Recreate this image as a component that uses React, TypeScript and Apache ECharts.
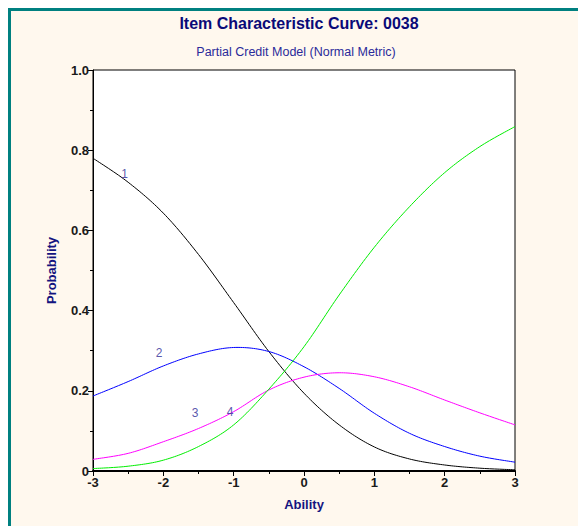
import React, { useEffect, useRef } from "react";
import * as echarts from "echarts";

const abilities = [-3, -2.5, -2, -1.5, -1, -0.5, 0, 0.5, 1, 1.5, 2, 2.5, 3];
const cat1 = [0.78, 0.72, 0.643, 0.54, 0.42, 0.298, 0.194, 0.115, 0.06, 0.03, 0.015, 0.007, 0.003];
const cat2 = [0.187, 0.223, 0.262, 0.292, 0.308, 0.298, 0.26, 0.206, 0.144, 0.094, 0.061, 0.037, 0.022];
const cat3 = [0.029, 0.044, 0.073, 0.106, 0.148, 0.202, 0.234, 0.245, 0.235, 0.21, 0.177, 0.145, 0.115];
const cat4 = [0.006, 0.012, 0.027, 0.061, 0.115, 0.204, 0.31, 0.439, 0.558, 0.659, 0.744, 0.809, 0.859];
const curveNames = ["1", "2", "3", "4"];
const curveColors = ["#000000", "#0000ff", "#ff00ff", "#00ee00"];
const labelX = [-2.55, -2.06, -1.55, -1.05];
const labelY = [0.74, 0.294, 0.145, 0.147];

const FONT = "'Liberation Sans', Arial, sans-serif";

// Catmull-Rom rendering of a curve through pixel points (presentation only)
function splinePath(pts: number[][]): number[][] {
  const out: number[][] = [];
  const n = pts.length;
  for (let i = 0; i < n - 1; i++) {
    const p0 = pts[Math.max(i - 1, 0)];
    const p1 = pts[i];
    const p2 = pts[i + 1];
    const p3 = pts[Math.min(i + 2, n - 1)];
    const steps = 16;
    for (let s = 0; s < steps; s++) {
      const t = s / steps;
      const t2 = t * t;
      const t3 = t2 * t;
      const f = (a: number, b: number, c: number, d: number) =>
        0.5 * (2 * b + (-a + c) * t + (2 * a - 5 * b + 4 * c - d) * t2 + (-a + 3 * b - 3 * c + d) * t3);
      out.push([f(p0[0], p1[0], p2[0], p3[0]), f(p0[1], p1[1], p2[1], p3[1])]);
    }
  }
  out.push(pts[n - 1]);
  return out;
}

export default function App() {
  const ref = useRef<HTMLDivElement>(null);
  useEffect(() => {
    if (!ref.current) return;
    const chart = echarts.init(ref.current, undefined, { renderer: "svg" });
    const allCats = [cat1, cat2, cat3, cat4];
    const curveSeries = allCats.map((c, i) => ({
      type: "custom",
      name: curveNames[i],
      data: abilities.map((a, j) => [a, c[j]]),
      encode: { x: 0, y: 1 },
      z: 3,
      renderItem: (params: any, api: any) => {
        if (params.dataIndex !== 0) return null;
        const pts = abilities.map((a, j) => api.coord([a, c[j]]));
        return {
          type: "polyline",
          shape: { points: splinePath(pts) },
          style: { stroke: curveColors[i], lineWidth: 1, fill: null },
        };
      },
    }));
    const labelSeries = {
      type: "scatter",
      symbolSize: 0,
      data: curveNames.map((n, i) => ({ value: [labelX[i], labelY[i]], name: n })),
      label: {
        show: true,
        position: "inside",
        formatter: (p: any) => p.name,
        color: "#2c2a96",
        fontSize: 12,
        fontFamily: FONT,
      },
      z: 4,
    };
    chart.setOption({
      animation: false,
      backgroundColor: "#ffffff",
      graphic: [
        {
          type: "rect",
          z: -10,
          silent: true,
          shape: { x: 9.5, y: 9.5, width: 800, height: 800 },
          style: { fill: "#fff8ee", stroke: "#008080", lineWidth: 3 },
        },
      ],
      title: [
        {
          text: "Item Characteristic Curve: 0038",
          left: 294,
          top: 10,
          textAlign: "center",
          textStyle: { fontFamily: FONT, fontSize: 16, fontWeight: "bold", color: "#0a0a78" },
        },
        {
          text: "Partial Credit Model (Normal Metric)",
          left: 291,
          top: 40,
          textAlign: "center",
          textStyle: { fontFamily: FONT, fontSize: 12.5, fontWeight: "normal", color: "#2a2a9a" },
        },
      ],
      grid: {
        left: 93,
        right: 63,
        top: 70,
        bottom: 55,
        show: true,
        backgroundColor: "#ffffff",
        borderColor: "#000000",
        borderWidth: 1,
      },
      xAxis: {
        type: "value",
        min: -3,
        max: 3,
        interval: 1,
        name: "Ability",
        nameLocation: "middle",
        nameGap: 27,
        nameTextStyle: { fontFamily: FONT, fontSize: 13, fontWeight: "bold", color: "#141480" },
        axisLine: { show: true, onZero: false, lineStyle: { color: "#000", width: 2 } },
        axisTick: { show: true, length: 5, lineStyle: { color: "#000" } },
        minorTick: { show: true, splitNumber: 2, length: 3, lineStyle: { color: "#000" } },
        splitLine: { show: false },
        axisLabel: {
          fontFamily: FONT,
          fontSize: 13,
          fontWeight: "bold",
          color: "#1a1a1a",
          margin: 5,
        },
      },
      yAxis: {
        type: "value",
        min: 0,
        max: 1,
        interval: 0.2,
        name: "Probability",
        nameLocation: "middle",
        nameGap: 35,
        nameTextStyle: { fontFamily: FONT, fontSize: 13, fontWeight: "bold", color: "#141480" },
        axisLine: { show: true, onZero: false, lineStyle: { color: "#000", width: 1 } },
        axisTick: { show: true, length: 5, lineStyle: { color: "#000" } },
        minorTick: { show: true, splitNumber: 2, length: 3, lineStyle: { color: "#000" } },
        splitLine: { show: false },
        axisLabel: {
          fontFamily: FONT,
          fontSize: 13,
          fontWeight: "bold",
          color: "#1a1a1a",
          margin: 4,
          formatter: (v: number) => (v === 0 ? "0" : v.toFixed(1)),
        },
      },
      series: [...curveSeries, labelSeries],
    });
    return () => chart.dispose();
  }, []);
  return (
    <div
      ref={ref}
      style={{ position: "absolute", left: 0, top: 0, width: 578, height: 526 }}
    />
  );
}
